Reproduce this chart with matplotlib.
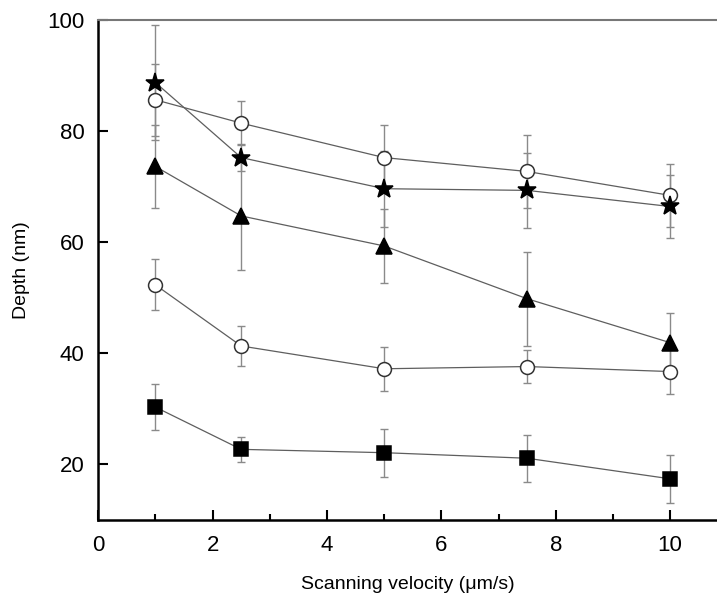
import numpy as np
import matplotlib.pyplot as plt
from matplotlib.ticker import MultipleLocator

plt.rcParams['font.family'] = ['Liberation Sans', 'DejaVu Sans']

# ---------- Data ------------------------------------------------------------------------------------------------------

velocity = [1, 2.5, 5, 7.5, 10]                     # Scanning velocity (um/s)

star_depth = [88.7, 75.2, 69.6, 69.3, 66.4]         # Depth (nm), filled stars
star_err = [10.4, 2.4, 6.8, 6.8, 5.7]

circ_top_depth = [85.6, 81.4, 75.2, 72.7, 68.4]     # open circles, upper series
circ_top_err = [6.5, 4.0, 5.8, 6.5, 5.6]

tri_depth = [73.6, 64.7, 59.3, 49.8, 41.9]          # filled triangles
tri_err = [7.4, 9.7, 6.7, 8.5, 5.4]

circ_low_depth = [52.3, 41.3, 37.2, 37.6, 36.7]     # open circles, lower series
circ_low_err = [4.6, 3.6, 4.0, 3.0, 4.0]

square_depth = [30.3, 22.7, 22.1, 21.1, 17.4]       # filled squares
square_err = [4.2, 2.3, 4.3, 4.2, 4.3]


# ---------- Figure ----------------------------------------------------------------------------------------------------

fig = plt.figure(figsize=(7.17, 5.99), dpi=100)
ax = fig.add_axes([0.137, 0.132, 0.863, 0.835])

series = [
    (circ_top_depth, circ_top_err, 'o', 'white', 10),
    (star_depth, star_err, '*', 'black', 14),
    (tri_depth, tri_err, '^', 'black', 12),
    (circ_low_depth, circ_low_err, 'o', 'white', 10),
    (square_depth, square_err, 's', 'black', 9.5),
]

for depth, err, marker, face, size in series:
    ax.errorbar(velocity, depth, yerr=err,
                fmt='none', ecolor='#8a8a8a', elinewidth=1.0, capsize=3, capthick=1.0, zorder=2)
    ax.plot(velocity, depth, color='#5e5e5e', linewidth=0.9, zorder=3)
    ax.plot(velocity, depth, linestyle='none', marker=marker, markersize=size,
            markerfacecolor=face, markeredgecolor='#333333' if face == 'white' else 'black',
            markeredgewidth=1.1, zorder=4)

ax.set_xlim(0, 10.82)
ax.set_ylim(10, 100)

ax.xaxis.set_major_locator(MultipleLocator(2))
ax.xaxis.set_minor_locator(MultipleLocator(1))
ax.set_yticks([20, 40, 60, 80, 100])

ax.tick_params(axis='both', which='major', direction='in', length=7, width=1.5, labelsize=16)
ax.tick_params(axis='x', which='major', pad=11)
ax.tick_params(axis='x', which='minor', direction='in', length=4, width=1.5)
ax.tick_params(axis='y', which='major', pad=10)

ax.spines['right'].set_visible(False)
ax.spines['top'].set_color('#777777')
ax.spines['top'].set_linewidth(1.5)
ax.spines['left'].set_linewidth(1.8)
ax.spines['bottom'].set_linewidth(1.8)

ax.set_xlabel('Scanning velocity (\u03bcm/s)', fontsize=14, labelpad=14)
ax.set_ylabel('Depth (nm)', fontsize=14, labelpad=12)

fig.savefig('out.png', dpi=100)
